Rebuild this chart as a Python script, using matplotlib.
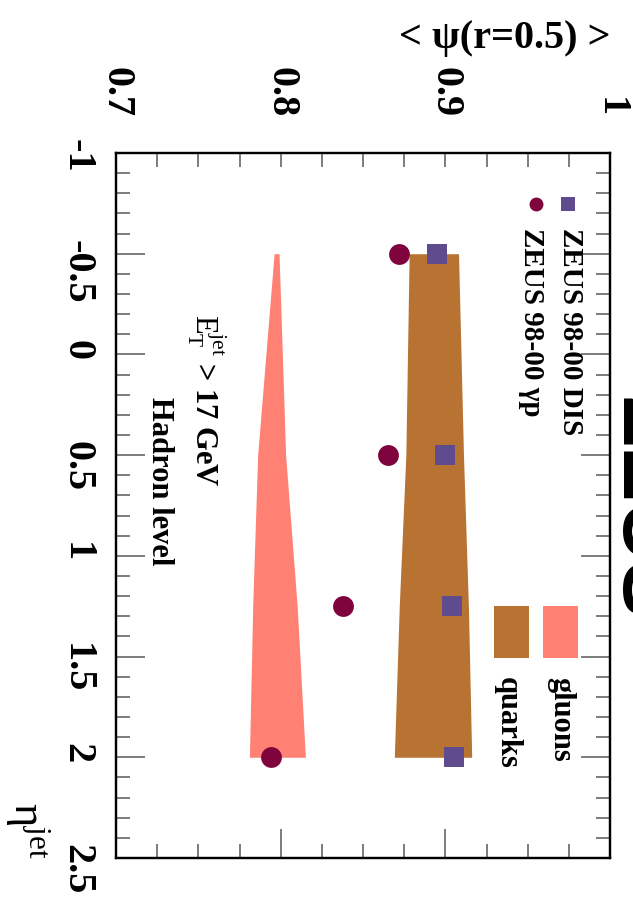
import matplotlib
matplotlib.use('Agg')
import matplotlib.pyplot as plt
import numpy as np
from matplotlib.patches import Rectangle

plt.rcParams['font.family'] = ['Liberation Serif', 'DejaVu Serif']
plt.rcParams['axes.unicode_minus'] = False
plt.rcParams['mathtext.fontset'] = 'custom'
plt.rcParams['mathtext.rm'] = 'Liberation Serif'
plt.rcParams['mathtext.it'] = 'Liberation Serif:italic'
plt.rcParams['mathtext.bf'] = 'Liberation Serif:bold'

############################
# data
############################
eta_pts = [-0.5, 0.5, 1.25, 2.0]
psi_dis = [0.895, 0.900, 0.904, 0.905]   # ZEUS 98-00 DIS (squares)
psi_gp = [0.872, 0.865, 0.838, 0.794]    # ZEUS 98-00 gamma p (circles)

gluon_lo = [0.796, 0.786, 0.783, 0.781]
gluon_hi = [0.799, 0.803, 0.810, 0.815]
quark_lo = [0.878, 0.876, 0.872, 0.869]
quark_hi = [0.908, 0.911, 0.914, 0.916]

eta_ticks = [-1, -0.5, 0, 0.5, 1, 1.5, 2, 2.5]
eta_labels = ['-1', '-0.5', '0', '0.5', '1', '1.5', '2', '2.5']
psi_ticks = [0.7, 0.8, 0.9, 1.0]
psi_labels = ['0.7', '0.8', '0.9', '1']

c_gluon = '#ff8174'
c_quark = '#b87333'
c_gp = '#7f033c'
c_dis = '#5f4b8d'

fig = plt.figure(figsize=(6.33, 9.06), dpi=100)
ax = fig.add_axes([0.1833, 0.0530, 0.7804, 0.7781])

# bands
ax.fill_betweenx(eta_pts, gluon_lo, gluon_hi, color=c_gluon, lw=0, zorder=1)
ax.fill_betweenx(eta_pts, quark_lo, quark_hi, color=c_quark, lw=0, zorder=1)

# points
ax.plot(psi_dis, eta_pts, 's', color=c_dis, ms=15, mew=0, zorder=3)
ax.plot(psi_gp, eta_pts, 'o', color=c_gp, ms=15, mew=0, zorder=3)

ax.set_xlim(0.7, 1.0)
ax.set_ylim(2.5, -1)

# left / right axis
ax.set_yticks(eta_ticks)
ax.set_yticklabels(eta_labels, rotation=-90, fontsize=29, fontweight='bold')
ax.set_yticks(np.arange(-1, 2.51, 0.1), minor=True)
ax.tick_params(axis='y', which='major', direction='in', length=21, width=1.1,
               color='0.35', right=True, pad=15)
ax.tick_params(axis='y', which='minor', direction='in', length=10, width=1.1,
               color='0.35', right=True)

# bottom axis (no labels)
ax.set_xticks(psi_ticks)
ax.set_xticks(np.arange(0.7, 1.0001, 0.025), minor=True)
ax.tick_params(axis='x', which='major', direction='in', length=21, width=1.1,
               color='0.35', labelbottom=False)
ax.tick_params(axis='x', which='minor', direction='in', length=10, width=1.1,
               color='0.35')

# top axis, all ticks short
ax2 = ax.twiny()
ax2.set_xlim(0.7, 1.0)
ax2.set_xticks(psi_ticks)
ax2.set_xticklabels(psi_labels, rotation=-90, fontsize=29, fontweight='bold')
ax2.set_xticks(np.arange(0.7, 1.0001, 0.025), minor=True)
ax2.tick_params(axis='x', which='both', direction='in', length=10, width=1.1,
                color='0.35', pad=26)

for a in (ax, ax2):
    for s in a.spines.values():
        s.set_linewidth(1.6)
        s.set_color('black')

# texts inside
ax.text(0.7546, 0.23, r'$\rm E_{T}^{jet}$ > 17 GeV', rotation=-90,
        fontsize=22, fontweight='bold', ha='center', va='center')
ax.text(0.7261, 0.629, 'Hadron level', rotation=-90, fontsize=22,
        fontweight='bold', ha='center', va='center')

# legend, drawn by hand (rotated)
ax.plot([0.850], [0.928], 'o', color=c_gp, ms=10, mew=0, transform=ax.transAxes)
ax.plot([0.915], [0.928], 's', color=c_dis, ms=10, mew=0, transform=ax.transAxes)
ax.text(0.919, 0.894, 'ZEUS 98-00 DIS', rotation=-90, fontsize=21,
        fontweight='bold', ha='center', va='top', transform=ax.transAxes)
ax.text(0.842, 0.894, u'ZEUS 98-00 \u03b3p', rotation=-90, fontsize=21,
        fontweight='bold', ha='center', va='top', transform=ax.transAxes)

ax.add_patch(Rectangle((0.864, 0.284), 0.071, 0.074, color=c_gluon,
                       transform=ax.transAxes, lw=0))
ax.add_patch(Rectangle((0.765, 0.284), 0.071, 0.074, color=c_quark,
                       transform=ax.transAxes, lw=0))
ax.text(0.901, 0.257, 'gluons', rotation=-90, fontsize=22, fontweight='bold',
        ha='center', va='top', transform=ax.transAxes)
ax.text(0.791, 0.257, 'quarks', rotation=-90, fontsize=22, fontweight='bold',
        ha='center', va='top', transform=ax.transAxes)

# axis titles
fig.text(0.9637, 0.957, u'< \u03c8(r=0.5) >', fontsize=29, fontweight='bold',
         ha='right', va='center')
fig.text(0.0427, 0.0839, r'$\rm \eta^{jet}$', rotation=-90, fontsize=32,
         ha='center', va='center')

# ZEUS logo, cut by the figure edge like in the original
fig.text(0.954, 0.439, 'ZEUS', rotation=-90, fontsize=60, fontweight='bold',
         family='Liberation Sans', ha='left', va='center')

plt.savefig('out.png', dpi=100)
